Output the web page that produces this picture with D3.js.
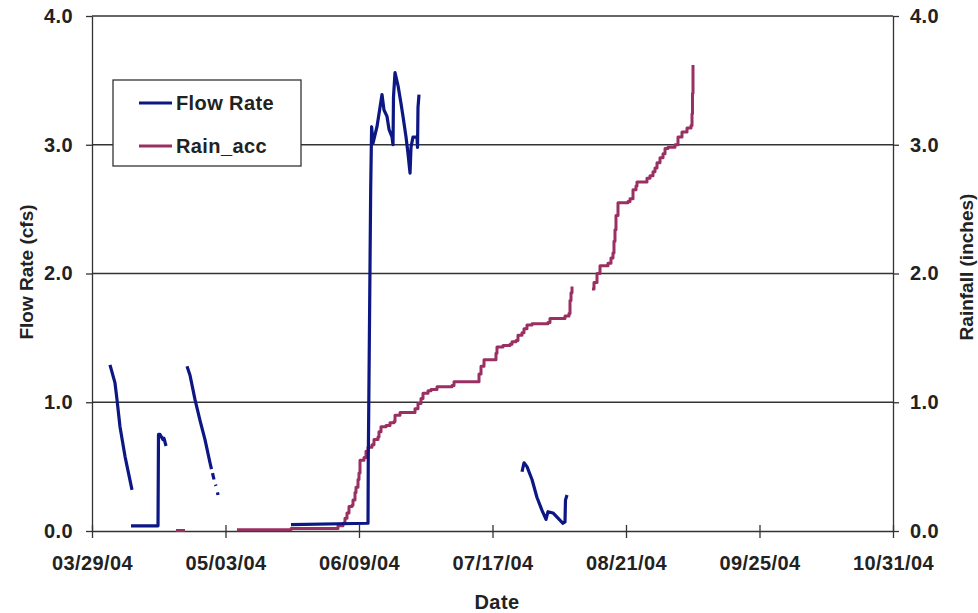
<!DOCTYPE html>
<html><head><meta charset="utf-8">
<script src="https://cdn.jsdelivr.net/npm/d3@7"></script>
<style>body{margin:0;background:#fff}svg{display:block}text{font-family:"Liberation Sans",Arial,sans-serif;font-weight:bold;fill:#222}</style>
</head><body><svg id="c" width="978" height="613"></svg>
<script>
// x values: days since 03/29/04
const xTickLabels = ["03/29/04","05/03/04","06/09/04","07/17/04","08/21/04","09/25/04","10/31/04"];
const yTicks = [0,1,2,3,4];
const seriesNames = ["Flow Rate","Rain_acc"];
const flowDays = [4.85,6.20,6.74,7.55,8.90,10.79,null,
  10.52,17.80,17.93,18.34,19.15,19.42,19.96,null,
  25.62,26.43,27.78,29.12,30.47,31.82,32.22,null,32.49,32.90,null,33.30,33.44,null,33.84,33.98,null,
  53.66,74.43,74.50,74.65,74.95,75.15,75.40,75.77,76.85,77.66,78.20,78.74,79.55,80.09,80.90,81.17,81.30,81.71,82.52,83.33,83.87,84.68,85.22,85.76,86.02,86.56,87.64,87.78,87.91,88.18,null,
  115.96,116.50,117.30,118.65,120.00,121.35,122.43,122.97,124.31,125.66,127.01,127.55,127.68,128.09];
const flowVals = [1.29,1.15,1.02,0.81,0.58,0.32,null,
  0.04,0.04,0.75,0.75,0.71,0.72,0.66,null,
  1.28,1.21,1.02,0.86,0.71,0.53,0.48,null,0.45,0.40,null,0.36,0.35,null,0.30,0.28,null,
  0.05,0.06,0.55,1.02,2.00,2.65,3.14,3.01,3.14,3.29,3.39,3.27,3.22,3.12,3.06,3.00,3.37,3.56,3.46,3.32,3.22,3.06,2.93,2.78,2.98,3.06,3.06,2.98,3.29,3.39,null,
  0.46,0.53,0.50,0.40,0.26,0.16,0.09,0.15,0.14,0.10,0.06,0.07,0.24,0.28];
const rainDays = [22.65,25.08,null,
  39.10,53.39,53.66,65.53,66.34,67.68,68.22,68.76,69.30,70.11,70.38,70.92,71.19,71.73,72.00,72.27,73.35,73.89,74.43,75.50,76.04,77.12,77.39,77.93,79.28,80.36,81.44,81.71,83.06,86.56,87.10,87.91,88.72,89.26,90.61,91.41,93.03,97.08,97.62,103.82,104.36,104.90,105.71,108.40,108.94,109.21,110.83,112.72,113.26,114.34,114.87,115.95,116.49,117.30,118.65,122.96,123.50,124.85,127.55,128.63,128.90,129.17,129.44,null,
  134.83,135.37,136.18,136.99,139.14,139.95,140.49,140.76,141.03,141.30,141.84,144.54,145.08,145.89,146.70,146.96,149.66,150.47,151.28,151.82,152.36,153.17,153.98,154.52,155.32,157.21,158.02,159.10,160.45,161.53,161.80,161.93,162.07];
const rainVals = [0.003,0.003,null,
  0.01,0.01,0.02,0.02,0.04,0.06,0.10,0.14,0.19,0.20,0.24,0.30,0.34,0.40,0.45,0.55,0.57,0.62,0.65,0.67,0.71,0.73,0.77,0.81,0.82,0.84,0.85,0.90,0.92,0.92,0.95,0.99,1.03,1.07,1.09,1.10,1.12,1.13,1.16,1.16,1.22,1.28,1.33,1.33,1.38,1.43,1.44,1.45,1.47,1.48,1.52,1.54,1.57,1.60,1.61,1.62,1.65,1.65,1.67,1.69,1.79,1.85,1.90,null,
  1.88,1.93,2.00,2.06,2.08,2.12,2.16,2.25,2.34,2.45,2.55,2.56,2.58,2.65,2.68,2.71,2.74,2.76,2.79,2.82,2.86,2.90,2.93,2.97,2.98,3.00,3.06,3.10,3.13,3.15,3.24,3.40,3.62];

const colors = ["#0c1784","#9a2f62"];
const svg = d3.select("#c");
const m = {l:92, r:85, t:16, b:82};
const W = 978, H = 613;
const x = d3.scaleLinear().domain([0,216]).range([m.l, W-m.r]);
const yL = d3.scaleLinear().domain([0,4]).range([H-m.b, m.t]);
const yR = d3.scaleLinear().domain([0,4]).range([H-m.b, m.t]);
const axisCol = "#333";
const FS = 20;

// gridlines
svg.append("g").selectAll("line").data(yTicks.filter(d=>d>0)).join("line")
  .attr("x1",m.l).attr("x2",W-m.r).attr("y1",d=>yL(d)).attr("y2",d=>yL(d))
  .attr("stroke",axisCol).attr("stroke-width",1.3);

const xTickVals = d3.range(xTickLabels.length).map(i=>i*36);
const gx = svg.append("g").attr("transform",`translate(0,${H-m.b})`)
  .call(d3.axisBottom(x).tickValues(xTickVals).tickFormat((d,i)=>xTickLabels[i]).tickSizeInner(7).tickSizeOuter(0).tickPadding(18));
gx.selectAll(".tick line").attr("y1",-6);
const gl = svg.append("g").attr("transform",`translate(${m.l},0)`)
  .call(d3.axisLeft(yL).tickValues(yTicks).tickFormat(d3.format(".1f")).tickSizeInner(6).tickSizeOuter(0).tickPadding(13));
const gr = svg.append("g").attr("transform",`translate(${W-m.r},0)`)
  .call(d3.axisRight(yR).tickValues(yTicks).tickFormat(d3.format(".1f")).tickSizeInner(6).tickSizeOuter(0).tickPadding(11));
[gx,gl,gr].forEach(g=>{
  g.select(".domain").attr("stroke",axisCol).attr("stroke-width",1.3);
  g.selectAll(".tick line").attr("stroke",axisCol).attr("stroke-width",1.3);
  g.selectAll("text").attr("font-size",FS).attr("letter-spacing","0.4px").attr("font-family","Liberation Sans, Arial, sans-serif").attr("font-weight","bold").attr("fill","#222");
});

// series
const mk = (days, vals) => days.map((d,i)=>({d, v: vals[i]}));
const line = d3.line().defined(p=>p.d!=null && p.v!=null).x(p=>x(p.d)).y(p=>yL(p.v));
const lineR = d3.line().defined(p=>p.d!=null && p.v!=null).x(p=>x(p.d)).y(p=>yR(p.v)).curve(d3.curveStepAfter);
svg.append("path").datum(mk(rainDays,rainVals)).attr("d",lineR).attr("fill","none")
  .attr("stroke",colors[1]).attr("stroke-width",3).attr("stroke-linejoin","round");
svg.append("path").datum(mk(flowDays,flowVals)).attr("d",line).attr("fill","none")
  .attr("stroke",colors[0]).attr("stroke-width",3.2).attr("stroke-linejoin","round");

// axis titles
svg.append("text").attr("x",497).attr("y",609).attr("text-anchor","middle").attr("font-size",FS).attr("letter-spacing","0.4px").text("Date");
svg.append("text").attr("transform",`translate(33,272) rotate(-90)`).attr("text-anchor","middle").attr("font-size",FS-1).text("Flow Rate (cfs)");
svg.append("text").attr("transform",`translate(973,267) rotate(-90)`).attr("text-anchor","middle").attr("font-size",FS-1).text("Rainfall (inches)");

// legend
const lg = svg.append("g");
lg.append("rect").attr("x",113).attr("y",80).attr("width",188).attr("height",86).attr("fill","#fff").attr("stroke",axisCol).attr("stroke-width",1.3);
seriesNames.forEach((n,i)=>{
  const yy = 103 + i*43;
  lg.append("line").attr("x1",139).attr("x2",172).attr("y1",yy).attr("y2",yy).attr("stroke",colors[i]).attr("stroke-width",3);
  lg.append("text").attr("x",176).attr("y",yy+7).attr("font-size",FS).attr("letter-spacing","0.4px").text(n);
});
</script></body></html>
